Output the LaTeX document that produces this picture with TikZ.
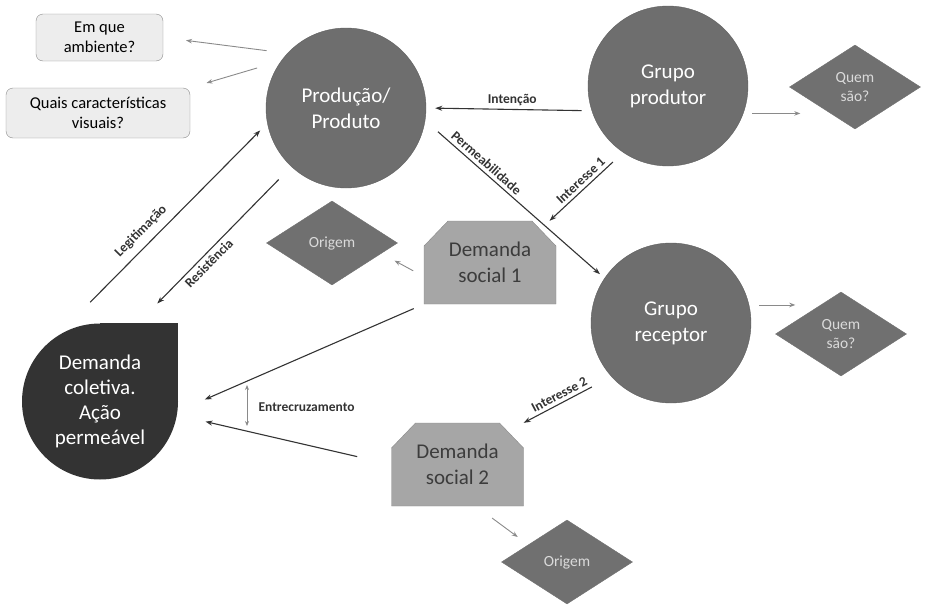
\documentclass[tikz,border=0pt]{standalone}
\usepackage{fontspec}
\setmainfont{Carlito}
\usepackage{xcolor}
\usetikzlibrary{shapes.geometric}
\usetikzlibrary{arrows.meta}

\definecolor{circlegray}{HTML}{6E6E6E}
\definecolor{circleedge}{HTML}{5F5F5F}
\definecolor{diagray}{HTML}{707070}
\definecolor{diatext}{HTML}{DADADA}
\definecolor{demfill}{HTML}{A6A6A6}
\definecolor{demedge}{HTML}{8A8A8A}
\definecolor{demtext}{HTML}{3C3C3C}
\definecolor{dropfill}{HTML}{333333}
\definecolor{boxfill}{HTML}{EDEDED}
\definecolor{boxedge}{HTML}{8C8C8C}
\definecolor{linecol}{HTML}{333333}
\definecolor{graycol}{HTML}{8A8A8A}

\tikzset{
  grupo/.style={circle, fill=circlegray, draw=circleedge, minimum size=160pt, inner sep=0pt,
    text=white, align=center, font=\fontsize{21}{26}\selectfont},
  pergunta/.style={diamond, fill=diagray, draw=diagray, minimum width=131pt, minimum height=84pt,
    inner sep=0pt, text=diatext, align=center, font=\fontsize{15.5}{19}\selectfont},
  caixa/.style={rectangle, rounded corners=7pt, fill=boxfill, draw=boxedge, inner sep=0pt,
    align=center, font=\fontsize{16.5}{20}\selectfont},
  demanda/.style={rectangle, minimum width=132pt, minimum height=83pt, inner sep=0pt,
    text=demtext, align=center, font=\fontsize{21}{26}\selectfont},
  gota/.style={rectangle, minimum width=156pt, minimum height=157pt, inner sep=0pt,
    text=white, align=center, font=\fontsize{21}{25}\selectfont},
  fluxo/.style={draw=linecol, line width=1.1pt, -{Stealth[length=7pt,width=5pt]}},
  cinza/.style={draw=graycol, line width=0.9pt, -{Stealth[length=6pt,width=4.5pt]}},
  rotulo/.style={text=linecol, font=\bfseries\fontsize{13.5}{16}\selectfont},
}

% box with the two top corners cut off
\newcommand{\demandabox}[3]{
  \filldraw[fill=demfill, draw=demedge, shift={(#2)}] (-66,41.5) -- (-66,-16.5) -- (-42,-41.5)
    -- (42,-41.5) -- (66,-16.5) -- (66,41.5) -- cycle;
  \node[demanda] (#1) at (#2) {#3};
}

\begin{document}
\begin{tikzpicture}[x=1pt, y=-1pt]
        \useasboundingbox (0,0) rectangle (930,605);

        % Drop shape: a circle with one square corner
        \def\dropx{100}
        \def\dropy{401.5}
        \def\dropr{78}
        \fill[dropfill] (\dropx,\dropy) circle (\dropr);
        \fill[dropfill] (\dropx,\dropy-78.5) rectangle (\dropx+\dropr,\dropy);
        \node[gota] (dc) at (\dropx,\dropy) {Demanda\\coletiva.\\Ação\\permeável};

        % Circles
        \node[grupo] (prod) at (346,108) {Produção/\\Produto};
        \node[grupo] (gp) at (668,86) {Grupo\\produtor};
        \node[grupo] (gr) at (671,323) {Grupo\\receptor};

        % Diamonds
        \foreach \name/\x/\y/\txt in {q1/855/87/{Quem\\são?}, q2/841/334/{Quem\\são?},
                                      o1/332/243/Origem, o2/567/562/Origem} {
            \node[pergunta] (\name) at (\x,\y) {\txt};
        }

        % Question boxes
        \node[caixa, minimum width=127pt, minimum height=47pt] (emque) at (99.5,37.5) {Em que\\ambiente?};
        \node[caixa, minimum width=184pt, minimum height=50pt] (quais) at (98,113) {Quais características\\visuais?};

        % Social demands
        \demandabox{ds1}{490,262.5}{Demanda\\social 1}
        \demandabox{ds2}{457.5,464.5}{Demanda\\social 2}

        % Dark arrows with labels
        \draw[fluxo, shorten <=10pt, shorten >=9pt] (gp.198) -- node[rotulo, above, pos=.48] {Intenção} (prod.0);
        \draw[fluxo, shorten <=17pt, shorten >=6pt] (prod.351) -- node[rotulo, above, sloped, pos=.31] {Permeabilidade} (gr.146);
        \draw[fluxo, shorten <=14pt] (gp.236) -- node[rotulo, above, sloped, pos=.5] {Interesse 1} (ds1.35);
        \draw[fluxo, shorten <=22pt] (gr.222) -- node[rotulo, above, sloped, pos=.55] {Interesse 2} (ds2.north east);
        \draw[fluxo, shorten <=29pt, shorten >=10pt] (dc.111) -- node[rotulo, above=4pt, sloped, pos=.41] {Legitimação} (prod.191);
        \draw[fluxo, shorten <=18pt, shorten >=27pt] (prod.227) -- node[rotulo, below, sloped, pos=.58] {Resistência} (dc.64);
        \draw[fluxo, shorten <=11pt, shorten >=29pt] (ds1.south west) -- (dc.-7);
        \draw[fluxo, shorten <=35pt, shorten >=28pt] (ds2.west) -- (dc.-10);

        % Crossing mark
        \coordinate (ectop) at (247,385);
        \coordinate (ecbot) at (247,426);
        \draw[cinza, {Stealth[length=5pt,width=4pt]}-{Stealth[length=5pt,width=4pt]}] (ectop) -- (ecbot);
        \node[rotulo, anchor=west] (entre) at (255,407) {Entrecruzamento};

        % Light gray arrows
        \draw[cinza, shorten <=21pt, shorten >=23pt] (prod.137) -- (emque.east);
        \draw[cinza, shorten <=25pt, shorten >=17pt] (prod.144) -- (quais.north east);
        \draw[cinza, shorten <=9pt, shorten >=-11pt] (gp.-20) -- (gp.-20 -| q1.west);
        \draw[cinza, shorten <=10pt, shorten >=-20pt] (gr.13) -- (gr.13 -| q2.west);
        \draw[cinza, shorten <=12pt, shorten >=15pt] (ds1.192) -- (o1.-12);
        \draw[cinza, shorten <=20pt, shorten >=13pt] (ds2.-66) -- (o2.156);
\end{tikzpicture}
\end{document}
